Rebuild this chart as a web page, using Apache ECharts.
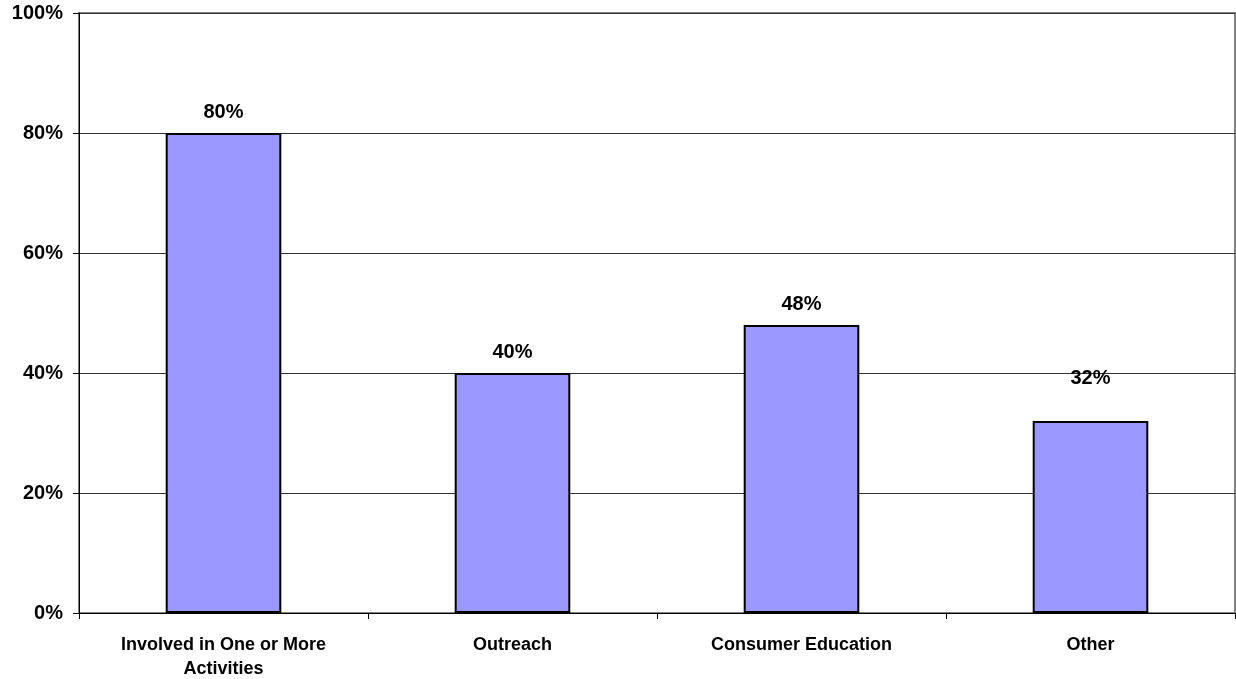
<!DOCTYPE html>
<html>
<head>
<meta charset="utf-8">
<script src="https://cdn.jsdelivr.net/npm/echarts@6/dist/echarts.min.js"></script>
<style>
  html, body { margin: 0; padding: 0; background: #ffffff; }
  #chart { width: 1236px; height: 679px; }
</style>
</head>
<body>
<div id="chart"></div>
<script>
// Share of respondents by activity type
const categories = ['Involved in One or More\nActivities', 'Outreach', 'Consumer Education', 'Other'];
const values = [80, 40, 48, 32];
const yTicks = [0, 20, 40, 60, 80, 100];

const FONT = 'Liberation Sans, Arial, sans-serif';

const chart = echarts.init(document.getElementById('chart'), null, { renderer: 'canvas' });

chart.setOption({
  animation: false,
  backgroundColor: '#ffffff',
  grid: {
    left: 79, right: 1, top: 13, bottom: 66,
    outerBoundsMode: 'none',
    containLabel: false,
    show: true, borderColor: '#808080', borderWidth: 2, backgroundColor: 'transparent'
  },
  xAxis: {
    type: 'category',
    data: categories,
    axisLine: { lineStyle: { color: '#000000', width: 1 } },
    axisTick: { show: true, alignWithLabel: false, length: 6, lineStyle: { color: '#000000' } },
    axisLabel: {
      color: '#000000', fontFamily: FONT, fontWeight: 'bold', fontSize: 18,
      lineHeight: 24, margin: 20, interval: 0
    }
  },
  yAxis: {
    type: 'value',
    min: yTicks[0],
    max: yTicks[yTicks.length - 1],
    interval: 20,
    axisLine: { show: true, lineStyle: { color: '#000000', width: 1 } },
    axisTick: { show: true, length: 6, lineStyle: { color: '#000000' } },
    axisLabel: {
      color: '#000000', fontFamily: FONT, fontWeight: 'bold', fontSize: 20,
      margin: 16, formatter: v => v + '%'
    },
    splitLine: { show: true, lineStyle: { color: '#333333', width: 1 } }
  },
  series: [{
    type: 'bar',
    barWidth: '40%',
    data: values.map((v, i) => ({
      value: v,
      label: { distance: i === 3 ? 33 : 11 }
    })),
    itemStyle: { color: '#9999ff', borderColor: '#000000', borderWidth: 2 },
    label: {
      show: true, position: 'top', color: '#000000',
      fontFamily: FONT, fontWeight: 'bold', fontSize: 20,
      formatter: p => p.value + '%'
    }
  }]
});
</script>
</body>
</html>
